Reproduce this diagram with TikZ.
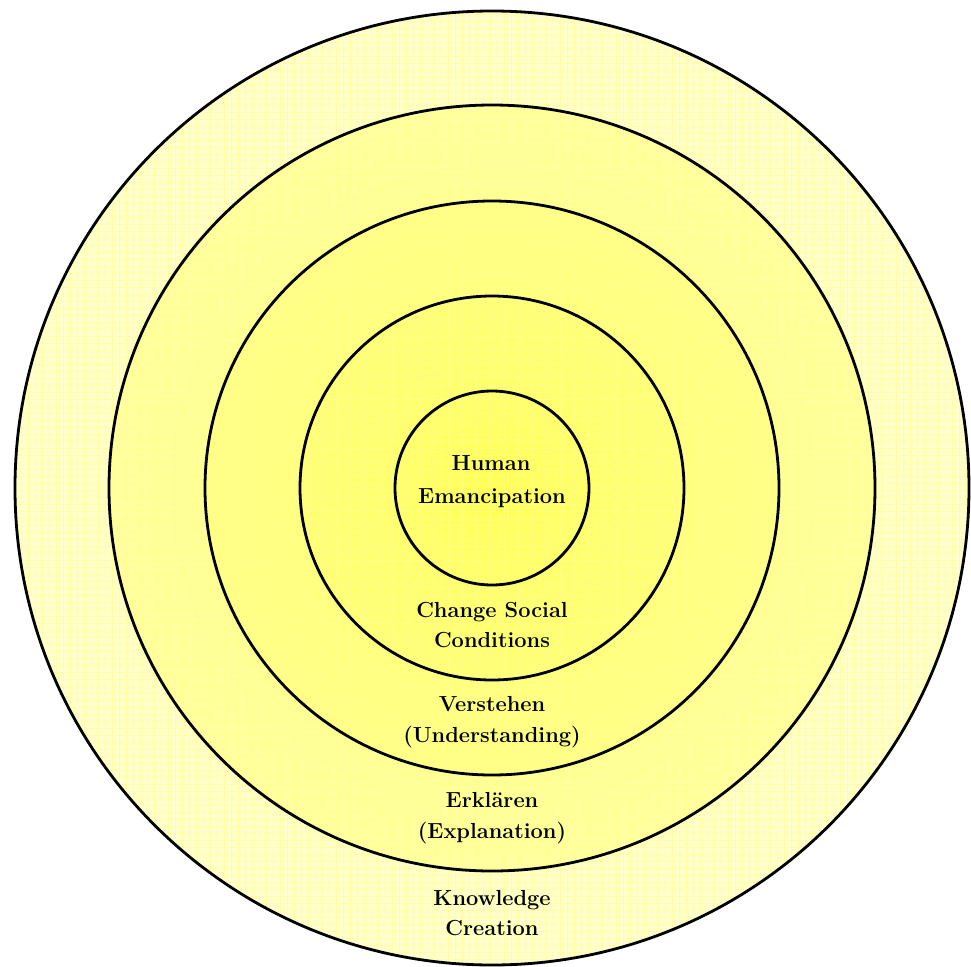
\documentclass[tikz,border=0pt]{standalone}
\definecolor{aIn}{RGB}{255,255,170}
\definecolor{aOut}{RGB}{255,255,205}
\definecolor{bIn}{RGB}{255,255,125}
\definecolor{bOut}{RGB}{255,255,160}
\definecolor{cIn}{RGB}{255,255,108}
\definecolor{cOut}{RGB}{255,255,136}
\definecolor{dIn}{RGB}{255,255,98}
\definecolor{dOut}{RGB}{255,255,120}
\definecolor{eIn}{RGB}{255,255,85}
\definecolor{eOut}{RGB}{255,255,108}
\definecolor{gridc}{RGB}{255,255,140}
\begin{document}
\begin{tikzpicture}[x=0.02cm,y=-0.02cm,
  ringline/.style={draw=black,line width=0.056cm},
  lbl/.style={font=\fontsize{12.4}{17.6}\selectfont\bfseries,text=black,inner sep=0pt,anchor=base}]
\useasboundingbox (0,0) rectangle (971,967);
\coordinate (c) at (492,488);
% fills
\shade[inner color=aIn,outer color=aOut] (c) circle (477);
\shade[inner color=bIn,outer color=bOut] (c) circle (383);
\shade[inner color=cIn,outer color=cOut] (c) circle (287);
\shade[inner color=dIn,outer color=dOut] (c) circle (192);
\shade[inner color=eIn,outer color=eOut] (c) circle (97);
% faint texture grid
\begin{scope}
  \clip (c) circle (477);
  \draw[gridc,line width=0.35pt,opacity=0.6] (0,0) grid[step=0.14cm] (971,967);
\end{scope}
% outlines
\draw[ringline] (c) circle (477);
\draw[ringline] (c) circle (383);
\draw[ringline] (c) circle (287);
\draw[ringline] (c) circle (192);
\draw[ringline] (c) circle (97);
% labels
\node[lbl] (t1a) at (491,470) {Human};
\node[lbl] (t1b) at (492,503) {Emancipation};
\node[lbl] (t2a) at (492,617) {Change Social};
\node[lbl] (t2b) at (492,647) {Conditions};
\node[lbl] (t3a) at (492,711) {Verstehen};
\node[lbl] (t3b) at (492,742) {(Understanding)};
\node[lbl] (t4a) at (492,807) {Erklären};
\node[lbl] (t4b) at (492,838) {(Explanation)};
\node[lbl] (t5a) at (492,905) {Knowledge};
\node[lbl] (t5b) at (492,935) {Creation};
\end{tikzpicture}
\end{document}
